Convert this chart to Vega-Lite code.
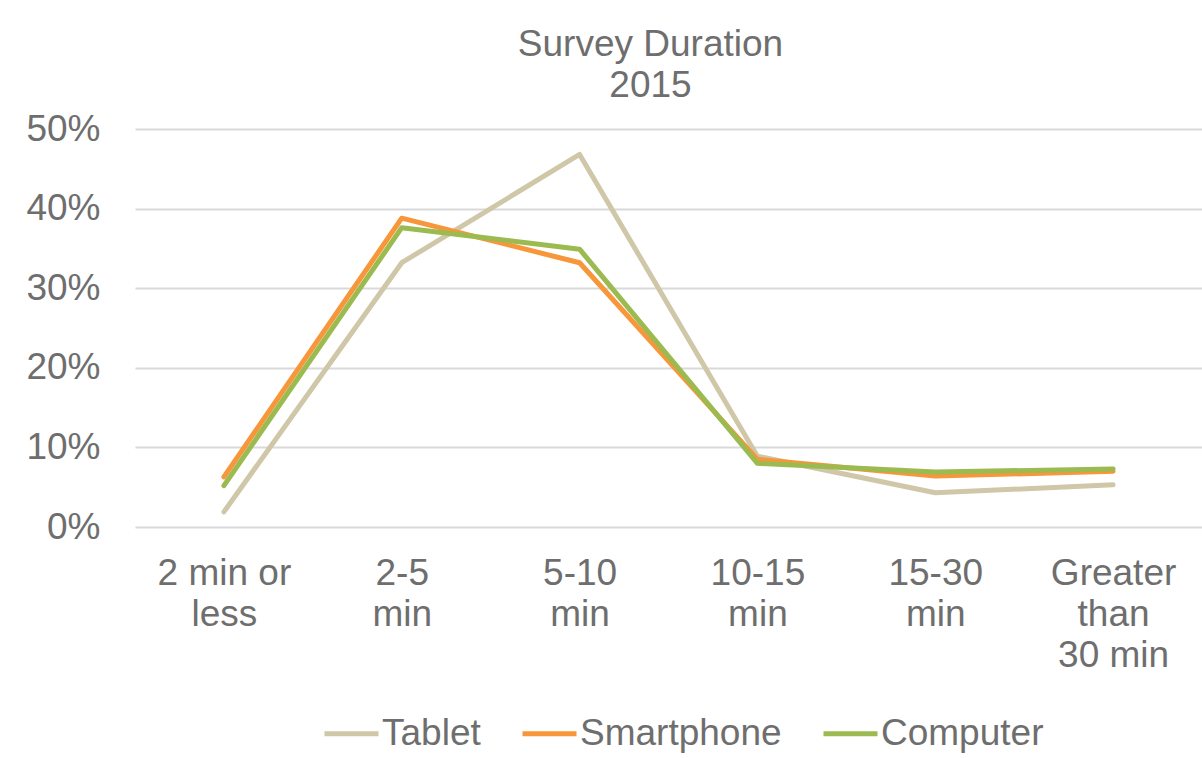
{
  "$schema": "https://vega.github.io/schema/vega-lite/v6.json",
  "autosize": "none",
  "width": 1067,
  "height": 398,
  "padding": {"left": 135, "top": 129, "right": 0, "bottom": 231},
  "background": "white",
  "title": {
    "text": ["Survey Duration", "2015"],
    "fontSize": 37,
    "font": "Liberation Sans",
    "fontWeight": "normal",
    "color": "#6e6e6e",
    "lineHeight": 41,
    "anchor": "middle",
    "dx": -18,
    "offset": 5
  },
  "data": {
    "values": [
      {"duration": "2 min or less", "device": "Tablet", "share": 0.019},
      {"duration": "2-5 min", "device": "Tablet", "share": 0.332},
      {"duration": "5-10 min", "device": "Tablet", "share": 0.468},
      {"duration": "10-15 min", "device": "Tablet", "share": 0.089},
      {"duration": "15-30 min", "device": "Tablet", "share": 0.043},
      {"duration": "Greater than 30 min", "device": "Tablet", "share": 0.053},
      {"duration": "2 min or less", "device": "Smartphone", "share": 0.063},
      {"duration": "2-5 min", "device": "Smartphone", "share": 0.388},
      {"duration": "5-10 min", "device": "Smartphone", "share": 0.332},
      {"duration": "10-15 min", "device": "Smartphone", "share": 0.085},
      {"duration": "15-30 min", "device": "Smartphone", "share": 0.064},
      {"duration": "Greater than 30 min", "device": "Smartphone", "share": 0.070},
      {"duration": "2 min or less", "device": "Computer", "share": 0.052},
      {"duration": "2-5 min", "device": "Computer", "share": 0.376},
      {"duration": "5-10 min", "device": "Computer", "share": 0.349},
      {"duration": "10-15 min", "device": "Computer", "share": 0.080},
      {"duration": "15-30 min", "device": "Computer", "share": 0.069},
      {"duration": "Greater than 30 min", "device": "Computer", "share": 0.073}
    ]
  },
  "mark": {"type": "line", "strokeWidth": 5, "strokeCap": "round", "strokeJoin": "round"},
  "encoding": {
    "x": {
      "field": "duration",
      "type": "nominal",
      "sort": ["2 min or less", "2-5 min", "5-10 min", "10-15 min", "15-30 min", "Greater than 30 min"],
      "scale": {"type": "point", "padding": 0.5},
      "axis": {
        "title": null,
        "domain": false,
        "ticks": false,
        "grid": false,
        "labelAngle": 0,
        "labelFont": "Liberation Sans",
        "labelFontSize": 37,
        "labelColor": "#6e6e6e",
        "labelPadding": 28,
        "labelLineHeight": 41,
        "labelBaseline": "top",
        "labelExpr": "datum.label == '2 min or less' ? ['2 min or', 'less'] : datum.label == '2-5 min' ? ['2-5', 'min'] : datum.label == '5-10 min' ? ['5-10', 'min'] : datum.label == '10-15 min' ? ['10-15', 'min'] : datum.label == '15-30 min' ? ['15-30', 'min'] : ['Greater', 'than', '30 min']"
      }
    },
    "y": {
      "field": "share",
      "type": "quantitative",
      "scale": {"domain": [0, 0.5], "nice": false},
      "axis": {
        "title": null,
        "format": ".0%",
        "values": [0, 0.1, 0.2, 0.3, 0.4, 0.5],
        "domain": false,
        "ticks": false,
        "grid": true,
        "gridColor": "#d9d9d9",
        "gridWidth": 2,
        "labelFont": "Liberation Sans",
        "labelFontSize": 37,
        "labelColor": "#6e6e6e",
        "labelPadding": 35
      }
    },
    "color": {
      "field": "device",
      "type": "nominal",
      "sort": ["Tablet", "Smartphone", "Computer"],
      "scale": {"domain": ["Tablet", "Smartphone", "Computer"], "range": ["#d0c6a8", "#f7963a", "#9bbb50"]},
      "legend": {
        "title": null,
        "orient": "none",
        "legendX": 187,
        "legendY": 575,
        "direction": "horizontal",
        "symbolType": "stroke",
        "symbolStrokeWidth": 5,
        "symbolSize": 2916,
        "labelFont": "Liberation Sans",
        "labelFontSize": 37,
        "labelColor": "#6e6e6e",
        "labelLimit": 0,
        "labelOffset": 1,
        "columnPadding": 31
      }
    }
  },
  "config": {
    "view": {"stroke": null}
  }
}
